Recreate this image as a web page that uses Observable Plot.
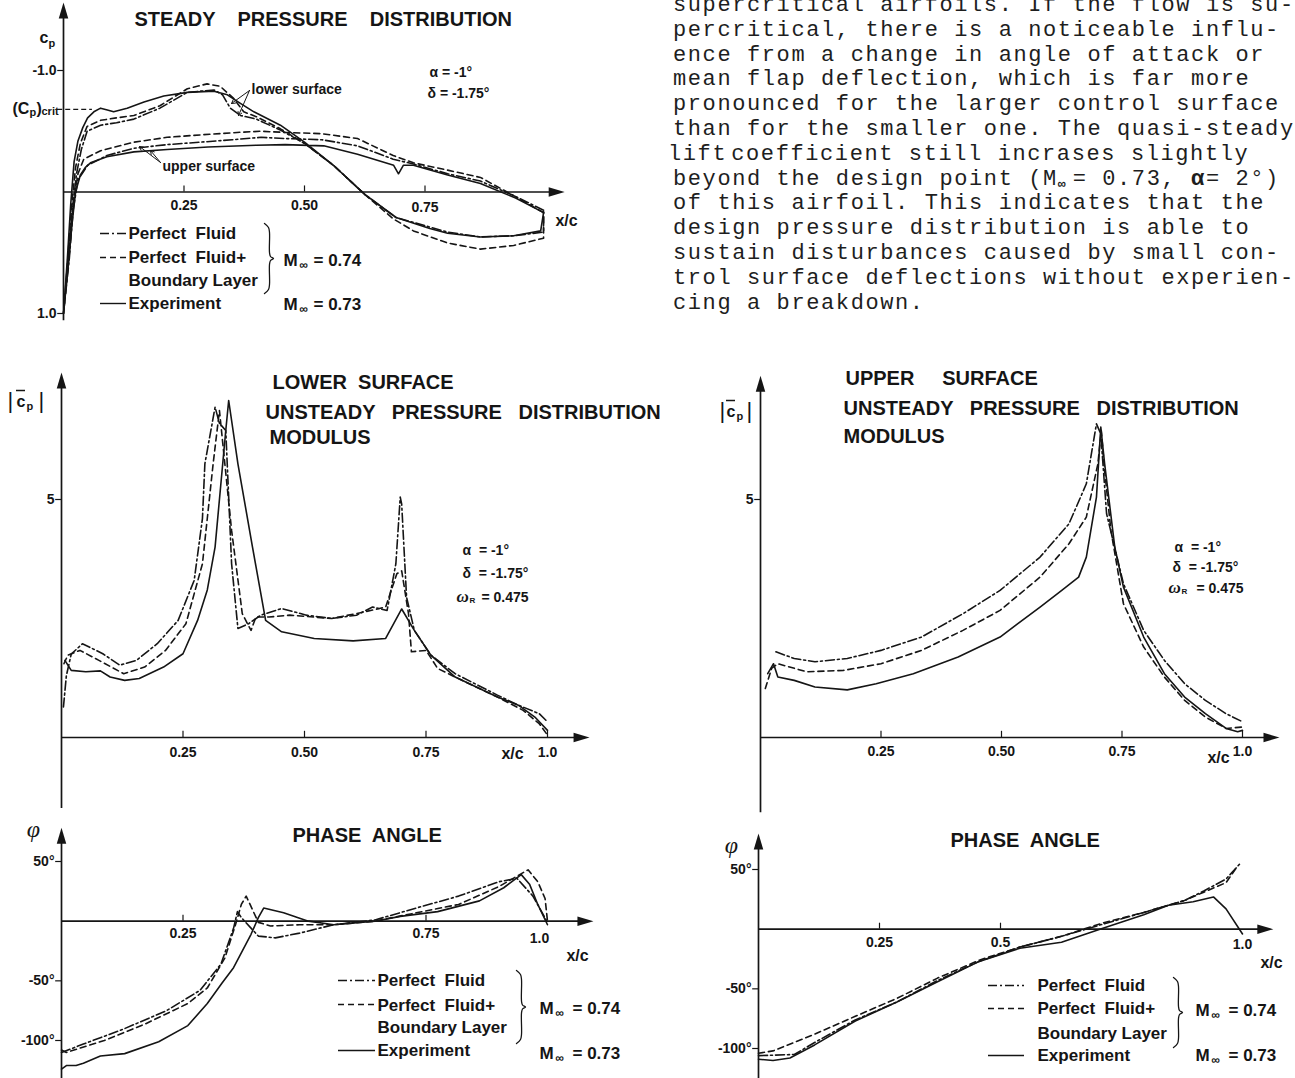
<!DOCTYPE html>
<html><head><meta charset="utf-8">
<script src="https://cdn.jsdelivr.net/npm/d3@7"></script>
<script src="https://cdn.jsdelivr.net/npm/@observablehq/plot@0.6"></script>
<style>
body{margin:0;background:#fff;}
#page{position:relative;width:1295px;height:1078px;overflow:hidden;background:#fff;}
#para{position:absolute;left:673px;top:-6px;font-family:"Liberation Mono","DejaVu Sans Mono",monospace;font-size:22px;letter-spacing:1.6px;line-height:24.8px;white-space:pre;color:#1e1e1e;}
#para div{height:24.8px;}
#para .sub{display:inline-block;width:14.8px;letter-spacing:0;font-size:13px;position:relative;top:3px;font-weight:bold;}
</style></head>
<body><div id="page"><div id="para"></div></div>
<script>
// ===================== DATA =====================
// Paragraph beside the figure (typewritten text of the source page)
const paragraphLines = [
  "supercritical airfoils. If the flow is su-",
  "percritical, there is a noticeable influ-",
  "ence from a change in angle of attack or",
  "mean flap deflection, which is far more",
  "pronounced for the larger control surface",
  "than for the smaller one. The quasi-steady",
  ["lift", "coefficient still incrases slightly"],
  ["beyond the design point (M", "∞", "= 0.73, ", "α", "= 2°)"],
  "of this airfoil. This indicates that the",
  "design pressure distribution is able to",
  "sustain disturbances caused by small con-",
  "trol surface deflections without experien-",
  "cing a breakdown."
];

// Steady pressure distribution, [x/c, Cp]
const cpCrit = -0.68;
const steadyLowerPF = [[0,1.0],[0.008,0.65],[0.017,0.2],[0.027,-0.15],[0.037,-0.35],[0.049,-0.5],[0.077,-0.55],[0.11,-0.57],[0.146,-0.60],[0.2,-0.69],[0.257,-0.82],[0.312,-0.84],[0.33,-0.80],[0.346,-0.69],[0.367,-0.63],[0.40,-0.60],[0.45,-0.51],[0.5,-0.40],[0.56,-0.22],[0.625,0.02],[0.69,0.21],[0.797,0.33],[0.865,0.37],[0.934,0.36],[0.996,0.33]];
const steadyUpperPF = [[0,1.0],[0.012,0.55],[0.02,0.15],[0.03,-0.1],[0.05,-0.22],[0.09,-0.30],[0.146,-0.36],[0.215,-0.39],[0.284,-0.41],[0.35,-0.43],[0.41,-0.45],[0.46,-0.44],[0.536,-0.43],[0.61,-0.38],[0.684,-0.27],[0.726,-0.23],[0.797,-0.15],[0.865,-0.09],[0.934,0.03],[0.996,0.15]];
const steadyLowerBL = [[0,1.0],[0.008,0.6],[0.016,0.15],[0.025,-0.2],[0.035,-0.4],[0.049,-0.54],[0.077,-0.59],[0.11,-0.61],[0.146,-0.63],[0.2,-0.71],[0.257,-0.85],[0.298,-0.89],[0.325,-0.87],[0.353,-0.77],[0.374,-0.66],[0.40,-0.62],[0.45,-0.52],[0.5,-0.40],[0.56,-0.22],[0.625,0.02],[0.684,0.22],[0.726,0.32],[0.797,0.42],[0.865,0.47],[0.934,0.44],[0.996,0.38]];
const steadyUpperBL = [[0,1.0],[0.012,0.5],[0.02,0.1],[0.03,-0.15],[0.042,-0.27],[0.077,-0.34],[0.146,-0.41],[0.215,-0.45],[0.284,-0.47],[0.36,-0.49],[0.409,-0.5],[0.462,-0.49],[0.536,-0.48],[0.61,-0.44],[0.684,-0.30],[0.726,-0.24],[0.797,-0.18],[0.865,-0.12],[0.934,0.03],[0.996,0.17]];
const steadyLowerExp = [[0,1.0],[0.008,0.55],[0.015,0.1],[0.022,-0.25],[0.03,-0.42],[0.04,-0.53],[0.05,-0.61],[0.063,-0.66],[0.077,-0.69],[0.091,-0.675],[0.104,-0.66],[0.132,-0.69],[0.167,-0.74],[0.208,-0.79],[0.257,-0.82],[0.312,-0.83],[0.34,-0.80],[0.367,-0.73],[0.395,-0.66],[0.45,-0.55],[0.5,-0.41],[0.56,-0.22],[0.625,0.02],[0.69,0.21],[0.76,0.30],[0.797,0.34],[0.865,0.37],[0.934,0.36],[0.99,0.32]];
const steadyUpperExp = [[0,1.0],[0.01,0.6],[0.018,0.25],[0.025,0.0],[0.035,-0.14],[0.045,-0.2],[0.056,-0.24],[0.09,-0.29],[0.146,-0.33],[0.215,-0.35],[0.30,-0.37],[0.40,-0.385],[0.46,-0.39],[0.54,-0.38],[0.61,-0.31],[0.685,-0.22],[0.695,-0.15],[0.705,-0.22],[0.726,-0.22],[0.797,-0.14],[0.865,-0.07],[0.938,0.05],[0.996,0.17]];

// Lower surface unsteady modulus |cp|, [x/c, |cp|]
const lowerModPF = [[0.004,0.64],[0.01,1.3],[0.02,1.75],[0.043,1.97],[0.085,1.76],[0.12,1.52],[0.154,1.62],[0.197,1.97],[0.24,2.46],[0.273,3.3],[0.29,4.6],[0.295,5.75],[0.316,6.94],[0.325,6.6],[0.338,6.45],[0.35,3.65],[0.363,2.29],[0.385,2.39],[0.41,2.57],[0.453,2.71],[0.504,2.57],[0.556,2.5],[0.607,2.57],[0.64,2.74],[0.67,2.67],[0.688,3.65],[0.697,5.05],[0.70,4.9],[0.71,2.95],[0.726,2.25],[0.76,1.73],[0.81,1.34],[0.897,0.89],[0.94,0.68],[0.983,0.5],[1.0,0.33]];
const lowerModBL = [[0.005,1.55],[0.013,1.73],[0.038,1.83],[0.077,1.62],[0.128,1.34],[0.171,1.48],[0.214,1.83],[0.256,2.39],[0.29,3.65],[0.312,5.75],[0.325,6.87],[0.35,4.35],[0.372,2.6],[0.39,2.25],[0.40,2.53],[0.427,2.53],[0.47,2.57],[0.556,2.5],[0.624,2.64],[0.667,2.74],[0.69,3.44],[0.70,3.5],[0.714,2.6],[0.72,1.8],[0.75,1.83],[0.774,1.45],[0.81,1.27],[0.897,0.85],[0.95,0.57],[0.983,0.29],[1.0,0.05]];
const lowerModExp = [[0.007,1.62],[0.02,1.41],[0.05,1.38],[0.08,1.40],[0.10,1.27],[0.13,1.20],[0.16,1.24],[0.21,1.48],[0.25,1.76],[0.28,2.46],[0.30,3.1],[0.316,4.0],[0.338,6.45],[0.344,7.08],[0.363,5.75],[0.393,4.0],[0.42,2.46],[0.453,2.22],[0.52,2.08],[0.60,2.03],[0.667,2.08],[0.70,2.7],[0.726,2.25],[0.76,1.73],[0.81,1.27],[0.897,0.85],[0.94,0.68],[0.974,0.43],[1.0,0.15]];

// Upper surface unsteady modulus |cp|, [x/c, |cp|]
const upperModPF = [[0.032,1.8],[0.07,1.66],[0.113,1.59],[0.18,1.66],[0.25,1.83],[0.334,2.11],[0.42,2.6],[0.497,3.09],[0.58,3.79],[0.64,4.49],[0.676,5.33],[0.697,6.59],[0.706,6.38],[0.718,4.7],[0.753,3.23],[0.795,2.25],[0.838,1.62],[0.88,1.13],[0.923,0.78],[0.966,0.5],[1.0,0.33]];
const upperModBL = [[0.01,1.03],[0.023,1.45],[0.036,1.55],[0.096,1.38],[0.172,1.41],[0.25,1.55],[0.334,1.83],[0.42,2.25],[0.497,2.67],[0.58,3.37],[0.64,4.07],[0.676,4.63],[0.70,5.75],[0.707,6.45],[0.714,5.6],[0.727,4.35],[0.753,2.81],[0.795,1.9],[0.838,1.27],[0.88,0.78],[0.923,0.43],[0.966,0.19],[1.0,0.22]];
const upperModExp = [[0.015,1.34],[0.027,1.55],[0.036,1.27],[0.07,1.2],[0.113,1.06],[0.18,1.0],[0.24,1.13],[0.317,1.34],[0.41,1.69],[0.497,2.11],[0.58,2.74],[0.625,3.09],[0.66,3.37],[0.676,3.79],[0.697,5.05],[0.706,6.52],[0.714,5.75],[0.735,4.0],[0.753,3.16],[0.795,2.11],[0.838,1.34],[0.88,0.85],[0.923,0.5],[0.966,0.19],[0.99,0.12],[1.0,0.15]];

// Lower surface phase angle, [x/c, degrees]
const lowerPhasePF = [[0,-110],[0.045,-103],[0.13,-90],[0.216,-75],[0.285,-58],[0.328,-36],[0.354,-6],[0.362,8],[0.37,3],[0.405,-12.5],[0.44,-14],[0.49,-10],[0.56,-3],[0.645,1],[0.73,11],[0.817,21],[0.9,33],[0.937,36],[0.97,21],[1.0,-1]];
const lowerPhaseBL = [[0,-108],[0.01,-110],[0.088,-100],[0.173,-86],[0.26,-69],[0.3,-56],[0.336,-31],[0.358,-3],[0.37,14],[0.38,21],[0.388,14],[0.405,-1],[0.43,-4],[0.49,-3],[0.56,-3],[0.645,0],[0.73,7],[0.817,14],[0.9,29],[0.96,43],[0.98,33],[0.995,19],[1.0,0]];
const lowerPhaseExp = [[0,-124],[0.01,-121],[0.03,-121],[0.045,-119],[0.08,-113],[0.13,-111],[0.2,-101],[0.26,-87.5],[0.3,-69],[0.33,-52],[0.354,-39],[0.39,-11],[0.405,3],[0.416,11],[0.457,7],[0.508,0],[0.56,-3],[0.645,0],[0.697,4],[0.774,8],[0.86,17],[0.91,28],[0.946,39],[0.963,31],[0.98,14],[1.0,-3]];

// Upper surface phase angle, [x/c, degrees]
const upperPhasePF = [[0,-106],[0.074,-105],[0.116,-95],[0.2,-76],[0.286,-61],[0.37,-43],[0.456,-27],[0.54,-15],[0.626,-6],[0.71,4],[0.796,14],[0.88,24],[0.92,32],[0.966,42],[0.995,55]];
const upperPhaseBL = [[0,-104],[0.03,-102],[0.116,-88],[0.2,-73],[0.286,-58],[0.37,-41],[0.456,-26],[0.54,-15],[0.626,-6],[0.71,5],[0.796,14],[0.88,24],[0.92,31],[0.966,39],[0.99,53]];
const upperPhaseExp = [[0,-109],[0.03,-110],[0.065,-108],[0.116,-97],[0.2,-77],[0.286,-61],[0.37,-44],[0.456,-27],[0.54,-16],[0.626,-11],[0.71,0.5],[0.796,12],[0.847,20],[0.898,23],[0.94,27],[0.966,17],[1.0,-4]];

// Tick labels
const steadyXTicks = [{v:0.25,t:"0.25"},{v:0.5,t:"0.50"},{v:0.75,t:"0.75"}];
const steadyYTicks = [{v:-1,t:"-1.0"},{v:1,t:"1.0"}];
const modXTicks = [{v:0.25,t:"0.25"},{v:0.5,t:"0.50"},{v:0.75,t:"0.75"},{v:1,t:"1.0"}];
const modYTicks = [{v:5,t:"5"}];
const lowerPhaseXTicks = [{v:0.25,t:"0.25"},{v:0.75,t:"0.75"},{v:1,t:"1.0",mark:false}];
const upperPhaseXTicks = [{v:0.25,t:"0.25"},{v:0.5,t:"0.5"},{v:1,t:"1.0",mark:false}];
const phaseYTicks = [{v:50,t:"50°"},{v:-50,t:"-50°"},{v:-100,t:"-100°"}];

// ===================== PARAGRAPH =====================
const para = document.getElementById("para");
paragraphLines.forEach((line, i) => {
  const div = document.createElement("div");
  if (typeof line === "string") div.textContent = line;
  else if (i === 6) {
    const a = document.createElement("span"); a.textContent = line[0]; a.style.marginLeft = "-5px";
    const b = document.createElement("span"); b.textContent = line[1]; b.style.marginLeft = "4px";
    div.append(a, b);
  } else {
    line.forEach((part, j) => {
      const s = document.createElement("span"); s.textContent = part;
      if (j === 1) s.className = "sub";
      if (j === 3) s.style.fontWeight = "bold";
      div.append(s);
    });
  }
  para.appendChild(div);
});

// ===================== STYLE / LAYOUT =====================
const W = 1295, H = 1078;
const INK = "#151515";
const SANS = "Liberation Sans, Arial, Helvetica, sans-serif";
const DASH = {PF: "9,3,2,3", BL: "6,4", EXP: null};
const layerStyle = {position: "absolute", left: "0px", top: "0px", background: "transparent", overflow: "visible"};

const arrowUp = {draw(c, size) {const r = Math.sqrt(size / Math.PI); c.moveTo(0, -2 * r); c.lineTo(0.95 * r, 1.2 * r); c.lineTo(-0.95 * r, 1.2 * r); c.closePath();}};
const arrowRight = {draw(c, size) {const r = Math.sqrt(size / Math.PI); c.moveTo(2 * r, 0); c.lineTo(-1.2 * r, 0.95 * r); c.lineTo(-1.2 * r, -0.95 * r); c.closePath();}};

function axisMarks(a) {
  const marks = [
    Plot.ruleY([0], {x1: 0, x2: a.xEnd, stroke: INK, strokeWidth: 1.7}),
    Plot.ruleX([0], {y1: a.yBottom, y2: a.yTop, stroke: INK, strokeWidth: 1.7}),
    Plot.dot([a.xEnd], {x: d => d, y: 0, symbol: arrowRight, r: 5, fill: INK, stroke: "none"}),
    Plot.dot([a.yTop], {x: 0, y: d => d, symbol: arrowUp, r: 5, fill: INK, stroke: "none"}),
    Plot.ruleX(a.xTicks.filter(d => d.mark !== false), {x: "v", y1: 0, y2: a.tickUp, stroke: INK, strokeWidth: 1.2}),
    Plot.ruleY(a.yTicks, {y: "v", x1: -a.tickLeft, x2: 0, stroke: INK, strokeWidth: 1.2}),
    Plot.text(a.yTicks, {x: 0, y: "v", text: "t", dx: -7, textAnchor: "end", lineAnchor: "middle", fontSize: 14, fontWeight: "bold", fontFamily: SANS, fill: INK})
  ];
  a.xTicks.forEach(d => marks.push(Plot.text([d], {x: "v", y: 0, text: "t", dx: d.dx || 0, dy: d.dy || a.labelDy, lineAnchor: "middle", fontSize: 14, fontWeight: "bold", fontFamily: SANS, fill: INK})));
  return marks;
}

function curveMark(pts, kind) {
  return Plot.line(pts, {x: d => d[0], y: d => d[1], stroke: INK, strokeWidth: 1.6, strokeLinejoin: "round", strokeDasharray: DASH[kind] || undefined});
}

function panel(L, axis, series, extra = []) {
  return Plot.plot({
    width: W, height: H, margin: 0, style: layerStyle,
    x: {type: "linear", domain: [0, 1], range: L.x, axis: null},
    y: {type: "linear", domain: L.yDomain, range: L.yRange, axis: null},
    marks: [...axisMarks(axis), ...series.map(([pts, k]) => curveMark(pts, k)), ...extra]
  });
}

const contour = (upper, lower) => [...upper.slice().reverse(), ...lower.slice(1), upper[upper.length - 1]];

const page = document.getElementById("page");

// Panel 1 : steady
page.appendChild(panel(
  {x: [63, 545], yDomain: [-1, 1], yRange: [70, 313]},
  {xEnd: 1.019, yTop: -1.477, yBottom: 1.06, xTicks: steadyXTicks.map(d => ({...d, dy: d.v === 0.75 ? 16 : 14})), yTicks: steadyYTicks, tickUp: -0.05, tickLeft: 0.012, labelDy: 14},
  [[contour(steadyUpperPF, steadyLowerPF), "PF"], [contour(steadyUpperBL, steadyLowerBL), "BL"], [contour(steadyUpperExp, steadyLowerExp), "EXP"]],
  [Plot.ruleY([cpCrit], {x1: -0.012, x2: 0.06, stroke: INK, strokeWidth: 1.2, strokeDasharray: "5,3"})]
));

// Panel 2 : lower surface modulus
page.appendChild(panel(
  {x: [61, 547], yDomain: [0, 5], yRange: [737, 499]},
  {xEnd: 1.066, yTop: 7.46, yBottom: -1.49, xTicks: modXTicks, yTicks: modYTicks, tickUp: 0.13, tickLeft: 0.012, labelDy: 15},
  [[lowerModPF, "PF"], [lowerModBL, "BL"], [lowerModExp, "EXP"]]
));

// Panel 3 : upper surface modulus
page.appendChild(panel(
  {x: [760, 1242], yDomain: [0, 5], yRange: [737, 499]},
  {xEnd: 1.056, yTop: 7.39, yBottom: -1.58, xTicks: modXTicks, yTicks: modYTicks, tickUp: 0.13, tickLeft: 0.012, labelDy: 14},
  [[upperModPF, "PF"], [upperModBL, "BL"], [upperModExp, "EXP"]]
));

// Panel 4 : lower surface phase
page.appendChild(panel(
  {x: [61, 547], yDomain: [-100, 50], yRange: [1040, 861]},
  {xEnd: 1.074, yTop: 70, yBottom: -132, xTicks: lowerPhaseXTicks.map(d => d.v === 1 ? {...d, dx: -8, dy: 17} : d), yTicks: phaseYTicks, tickUp: 5, tickLeft: 0.012, labelDy: 12},
  [[lowerPhasePF, "PF"], [lowerPhaseBL, "BL"], [lowerPhaseExp, "EXP"]]
));

// Panel 5 : upper surface phase
page.appendChild(panel(
  {x: [758, 1242], yDomain: [-100, 50], yRange: [1048, 869]},
  {xEnd: 1.043, yTop: 71.8, yBottom: -126, xTicks: upperPhaseXTicks.map(d => d.v === 1 ? {...d, dy: 15} : d), yTicks: phaseYTicks, tickUp: 5, tickLeft: 0.012, labelDy: 13},
  [[upperPhasePF, "PF"], [upperPhaseBL, "BL"], [upperPhaseExp, "EXP"]]
));

// ===================== ANNOTATION LAYER (pixel placement) =====================
const titles = [
  {t: "STEADY    PRESSURE    DISTRIBUTION", x: 134, y: 19},
  {t: "LOWER  SURFACE", x: 272, y: 382},
  {t: "UNSTEADY   PRESSURE   DISTRIBUTION", x: 265, y: 412},
  {t: "MODULUS", x: 269, y: 437},
  {t: "UPPER     SURFACE", x: 845, y: 378},
  {t: "UNSTEADY   PRESSURE   DISTRIBUTION", x: 843, y: 408},
  {t: "MODULUS", x: 843, y: 436},
  {t: "PHASE  ANGLE", x: 292, y: 835},
  {t: "PHASE  ANGLE", x: 950, y: 840}
];
const legendText = [
  {t: "Perfect  Fluid", x: 128, y: 233}, {t: "Perfect  Fluid+", x: 128, y: 257}, {t: "Boundary Layer", x: 128, y: 280}, {t: "Experiment", x: 128, y: 303},
  {t: "M", x: 283, y: 260}, {t: "= 0.74", x: 313, y: 260}, {t: "M", x: 283, y: 304}, {t: "= 0.73", x: 313, y: 304},
  {t: "Perfect  Fluid", x: 377, y: 980}, {t: "Perfect  Fluid+", x: 377, y: 1005}, {t: "Boundary Layer", x: 377, y: 1027}, {t: "Experiment", x: 377, y: 1050},
  {t: "M", x: 539, y: 1008}, {t: "= 0.74", x: 572, y: 1008}, {t: "M", x: 539, y: 1053}, {t: "= 0.73", x: 572, y: 1053},
  {t: "Perfect  Fluid", x: 1037, y: 985}, {t: "Perfect  Fluid+", x: 1037, y: 1008}, {t: "Boundary Layer", x: 1037, y: 1033}, {t: "Experiment", x: 1037, y: 1055},
  {t: "M", x: 1195, y: 1010}, {t: "= 0.74", x: 1228, y: 1010}, {t: "M", x: 1195, y: 1055}, {t: "= 0.73", x: 1228, y: 1055}
];
const infSubs = [{t: "∞", x: 299, y: 265}, {t: "∞", x: 299, y: 309}, {t: "∞", x: 555, y: 1013}, {t: "∞", x: 555, y: 1058}, {t: "∞", x: 1211, y: 1015}, {t: "∞", x: 1211, y: 1060}];
const smallText = [
  {t: "lower surface", x: 251, y: 89}, {t: "upper surface", x: 162, y: 166},
  {t: "α = -1°", x: 429, y: 72}, {t: "δ = -1.75°", x: 427, y: 93},
  {t: "α  = -1°", x: 462, y: 550}, {t: "δ  = -1.75°", x: 462, y: 573}, {t: "= 0.475", x: 481, y: 597},
  {t: "α  = -1°", x: 1174, y: 547}, {t: "δ  = -1.75°", x: 1172, y: 567}, {t: "= 0.475", x: 1196, y: 588}
];
const omegas = [{t: "ω", x: 456, y: 596}, {t: "ω", x: 1168, y: 587}];
const omegaSubs = [{t: "R", x: 469, y: 600}, {t: "R", x: 1181, y: 591}];
const axisNames = [{t: "c", x: 39, y: 37}, {t: "(C", x: 12, y: 108}, {t: ")", x: 36, y: 108}, {t: "c", x: 16, y: 401}, {t: "c", x: 726, y: 411}];
const axisSubs = [{t: "p", x: 48, y: 43}, {t: "p", x: 29, y: 112}, {t: "crit", x: 41, y: 111}, {t: "p", x: 26, y: 406}, {t: "p", x: 736, y: 416}];
const bars = [{t: "|", x: 7, y: 400}, {t: "|", x: 38, y: 400}, {t: "|", x: 719, y: 410}, {t: "|", x: 746, y: 410}];
const xcLabels = [{t: "x/c", x: 566, y: 220}, {t: "x/c", x: 512, y: 753}, {t: "x/c", x: 1218, y: 757}, {t: "x/c", x: 577, y: 955}, {t: "x/c", x: 1271, y: 962}];
const phis = [{t: "φ", x: 33, y: 829}, {t: "φ", x: 731, y: 845}];
const cBars = [{x1: 16, x2: 25, y: 390}, {x1: 726, x2: 735, y: 400}];
const pointerArrows = [
  {x1: 249, y1: 90, x2: 231, y2: 103}, {x1: 249, y1: 90, x2: 238, y2: 115},
  {x1: 160, y1: 162, x2: 139, y2: 146}, {x1: 160, y1: 162, x2: 150, y2: 150}
];
const legendSamples = [
  {x1: 100, x2: 126, y: 233, k: "PF"}, {x1: 100, x2: 126, y: 257, k: "BL"}, {x1: 100, x2: 126, y: 303, k: "EXP"},
  {x1: 338, x2: 375, y: 980, k: "PF"}, {x1: 338, x2: 375, y: 1004, k: "BL"}, {x1: 338, x2: 375, y: 1050, k: "EXP"},
  {x1: 988, x2: 1024, y: 985, k: "PF"}, {x1: 988, x2: 1024, y: 1008, k: "BL"}, {x1: 988, x2: 1024, y: 1055, k: "EXP"}
];
const braces = [{x: 264, y0: 223, y1: 293}, {x: 516, y0: 970, y1: 1043}, {x: 1173, y0: 977, y1: 1047}];
const braceShape = b => {
  const m = (b.y0 + b.y1) / 2;
  return [[b.x, b.y0], [b.x + 4, b.y0 + 4], [b.x + 5, b.y0 + 9], [b.x + 5, m - 6], [b.x + 6, m - 2], [b.x + 9, m], [b.x + 6, m + 2], [b.x + 5, m + 6], [b.x + 5, b.y1 - 9], [b.x + 4, b.y1 - 4], [b.x, b.y1]];
};

const txt = (data, o) => Plot.text(data, {x: "x", y: "y", text: "t", lineAnchor: "middle", textAnchor: "start", fill: INK, fontFamily: SANS, fontWeight: "bold", ...o});

page.appendChild(Plot.plot({
  width: W, height: H, margin: 0, style: layerStyle,
  x: {type: "identity", axis: null}, y: {type: "identity", axis: null},
  marks: [
    txt(titles, {fontSize: 20}),
    txt(legendText, {fontSize: 17}),
    txt(infSubs, {fontSize: 12}),
    txt(smallText, {fontSize: 14}),
    txt(omegas, {fontSize: 17, fontStyle: "italic", fontFamily: "Liberation Serif, serif"}),
    txt(omegaSubs, {fontSize: 8}),
    txt(axisNames, {fontSize: 16}),
    txt(axisSubs, {fontSize: 11}),
    txt(bars, {fontSize: 22, fontWeight: "normal"}),
    txt(xcLabels, {fontSize: 16, textAnchor: "middle"}),
    txt(phis, {fontSize: 24, fontStyle: "italic", fontWeight: "normal", fontFamily: "Liberation Serif, serif", textAnchor: "middle"}),
    Plot.ruleY(cBars, {y: "y", x1: "x1", x2: "x2", stroke: INK, strokeWidth: 1.5}),
    Plot.arrow(pointerArrows, {x1: "x1", y1: "y1", x2: "x2", y2: "y2", stroke: INK, strokeWidth: 1, headLength: 6}),
    ...["PF", "BL", "EXP"].map(k => Plot.ruleY(legendSamples.filter(d => d.k === k), {y: "y", x1: "x1", x2: "x2", stroke: INK, strokeWidth: 1.4, strokeDasharray: DASH[k] || undefined})),
    ...braces.map(b => Plot.line(braceShape(b), {x: d => d[0], y: d => d[1], stroke: INK, strokeWidth: 1.3, curve: "catmull-rom"}))
  ]
}));
</script>
</body></html>
